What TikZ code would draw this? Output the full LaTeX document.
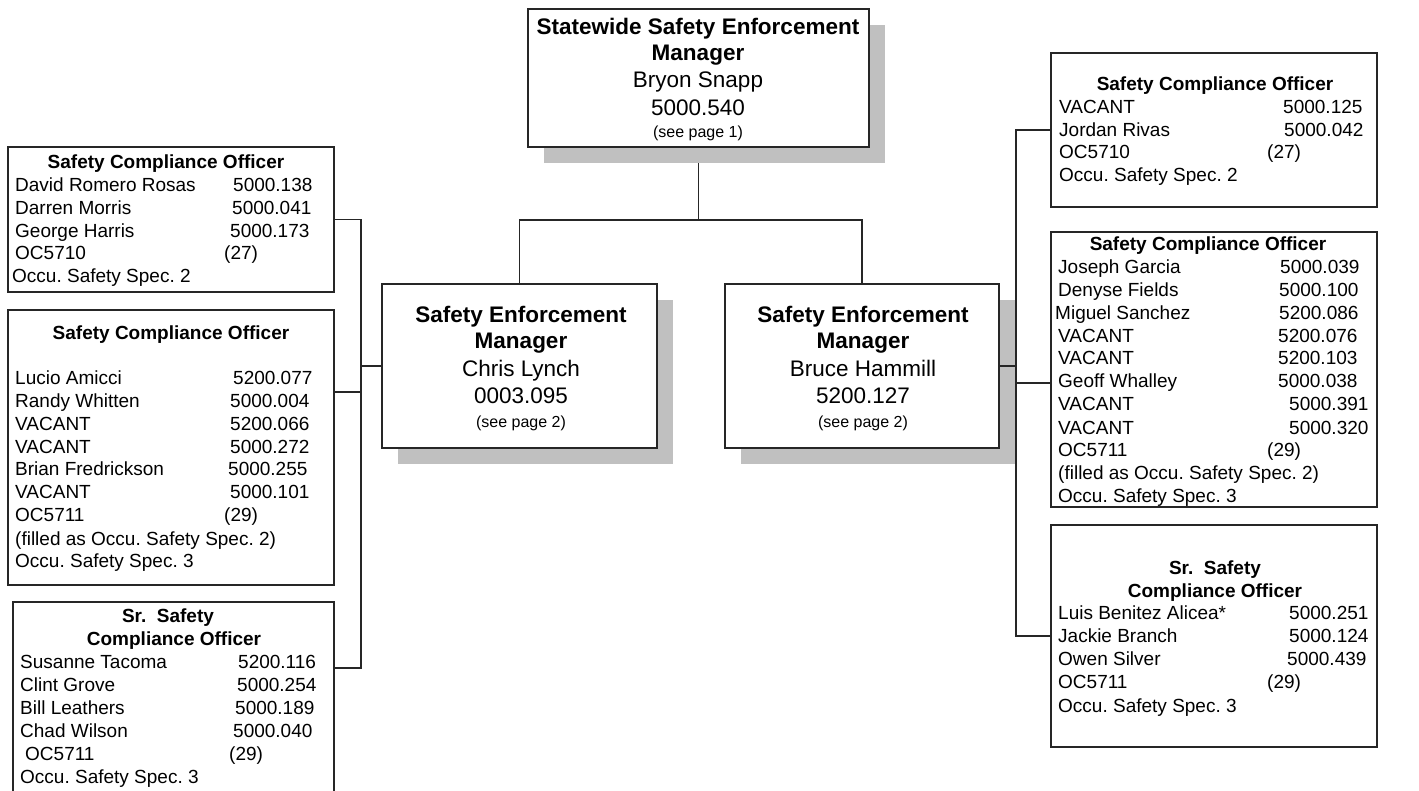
\documentclass[tikz,border=0pt]{standalone}
\usepackage{fontspec}
\setmainfont{Liberation Sans}
\usetikzlibrary{shadows,backgrounds}
\definecolor{shadowgray}{RGB}{192,192,192}
\frenchspacing
\newcounter{tn}
\tikzset{
 box/.style={draw=black!85, line width=1.8pt, fill=white, inner sep=0pt, outer sep=0pt},
 shadowed/.style={drop shadow={shadow xshift=16pt, shadow yshift=-16pt, fill=shadowgray, opacity=1}},
 txt/.style={anchor=mid west, inner sep=0pt, yshift=-4pt, font=\fontsize{19}{22}\selectfont},
 ttl/.style={anchor=mid, inner sep=0pt, yshift=-4pt, font=\fontsize{19}{22}\selectfont\bfseries},
 big/.style={anchor=mid, inner sep=0pt, yshift=-5pt, font=\fontsize{22.5}{27}\selectfont},
 bigb/.style={anchor=mid, inner sep=0pt, yshift=-5pt, font=\fontsize{22.5}{27}\selectfont\bfseries},
 smalltxt/.style={anchor=mid, inner sep=0pt, yshift=-3pt, font=\fontsize{16}{18}\selectfont},
 conn/.style={line width=1.8pt, draw=black!85},
}
\newcommand\boxtext[3]{\stepcounter{tn}\node[txt] (tx\thetn) at (#1,#2) {#3};}
\newcommand\orgrow[5]{\boxtext{#1}{#3}{#4}\boxtext{#2}{#3}{#5}}
\begin{document}
\begin{tikzpicture}[x=1pt,y=-1pt]
\useasboundingbox (0,0) rectangle (1419,790);
\clip (0,0) rectangle (1419,790);

% ---------- top
\node[box, shadowed, minimum width=341pt, minimum height=138pt] (T) at (698.5,78) {};
\node[bigb] (t1) at (698,27) {Statewide Safety Enforcement};
\node[bigb] (t2) at (698,53) {Manager};
\node[big] (t3) at (698,80) {Bryon Snapp};
\node[big] (t4) at (698,108) {5000.540};
\node[smalltxt] (t5) at (698,132) {(see page 1)};

% ---------- managers
\node[box, shadowed, minimum width=275pt, minimum height=164pt] (LM) at (519.5,366) {};
\node[bigb] (lm1) at (521,315) {Safety Enforcement};
\node[bigb] (lm2) at (521,341) {Manager};
\node[big] (lm3) at (521,369) {Chris Lynch};
\node[big] (lm4) at (521,396) {0003.095};
\node[smalltxt] (lm5) at (521,422) {(see page 2)};

\node[box, shadowed, minimum width=274pt, minimum height=164pt] (RM) at (862,366) {};
\node[bigb] (rm1) at (863,315) {Safety Enforcement};
\node[bigb] (rm2) at (863,341) {Manager};
\node[big] (rm3) at (863,369) {Bruce Hammill};
\node[big] (rm4) at (863,396) {5200.127};
\node[smalltxt] (rm5) at (863,422) {(see page 2)};

% ---------- left boxes
\node[box, minimum width=326pt, minimum height=145pt] (L1) at (171,219.5) {};
\node[ttl] (l1t) at (166,162) {Safety Compliance Officer};
\orgrow{15}{233}{185}{David Romero Rosas}{5000.138}
\orgrow{15}{232}{208}{Darren Morris}{5000.041}
\orgrow{15}{230}{231}{George Harris}{5000.173}
\orgrow{15}{224}{253}{OC5710}{(27)}
\boxtext{12}{276}{Occu. Safety Spec. 2}

\node[box, minimum width=326pt, minimum height=275pt] (L2) at (171,447.5) {};
\node[ttl] (l2t) at (171,333) {Safety Compliance Officer};
\orgrow{15}{233}{378}{Lucio Amicci}{5200.077}
\orgrow{15}{230}{401}{Randy Whitten}{5000.004}
\orgrow{15}{230}{424}{VACANT}{5200.066}
\orgrow{15}{230}{447}{VACANT}{5000.272}
\orgrow{15}{228}{469}{Brian Fredrickson}{5000.255}
\orgrow{15}{230}{492}{VACANT}{5000.101}
\orgrow{15}{224}{515}{OC5711}{(29)}
\boxtext{15}{539}{(filled as Occu. Safety Spec. 2)}
\boxtext{15}{561}{Occu. Safety Spec. 3}

\node[box, minimum width=321pt, minimum height=208pt] (L3) at (173.5,706) {};
\node[ttl] (l3t1) at (168,616) {Sr.~ Safety};
\node[ttl] (l3t2) at (174,639) {Compliance Officer};
\orgrow{20}{238}{662}{Susanne Tacoma}{5200.116}
\orgrow{20}{237}{685}{Clint Grove}{5000.254}
\orgrow{20}{235}{708}{Bill Leathers}{5000.189}
\orgrow{20}{233}{731}{Chad Wilson}{5000.040}
\orgrow{25}{229}{754}{OC5711}{(29)}
\boxtext{20}{777}{Occu. Safety Spec. 3}

% ---------- right boxes
\node[box, minimum width=326pt, minimum height=154pt] (R1) at (1214,130) {};
\node[ttl] (r1t) at (1215,84) {Safety Compliance Officer};
\orgrow{1059}{1283}{107}{VACANT}{5000.125}
\orgrow{1059}{1284}{130}{Jordan Rivas}{5000.042}
\orgrow{1059}{1267}{152}{OC5710}{(27)}
\boxtext{1059}{175}{Occu. Safety Spec. 2}

\node[box, minimum width=326pt, minimum height=275pt] (R2) at (1214,369.5) {};
\node[ttl] (r2t) at (1208,244) {Safety Compliance Officer};
\orgrow{1058}{1280}{267}{Joseph Garcia}{5000.039}
\orgrow{1058}{1279}{290}{Denyse Fields}{5000.100}
\orgrow{1055}{1279}{313}{Miguel Sanchez}{5200.086}
\orgrow{1058}{1278}{336}{VACANT}{5200.076}
\orgrow{1058}{1278}{358}{VACANT}{5200.103}
\orgrow{1058}{1278}{381}{Geoff Whalley}{5000.038}
\orgrow{1058}{1289}{404}{VACANT}{5000.391}
\orgrow{1058}{1289}{428}{VACANT}{5000.320}
\orgrow{1058}{1267}{450}{OC5711}{(29)}
\boxtext{1058}{473}{(filled as Occu. Safety Spec. 2)}
\boxtext{1058}{496}{Occu. Safety Spec. 3}

\node[box, minimum width=326pt, minimum height=222pt] (R3) at (1214,636) {};
\node[ttl] (r3t1) at (1215,568) {Sr.~ Safety};
\node[ttl] (r3t2) at (1215,591) {Compliance Officer};
\orgrow{1058}{1289}{613}{Luis Benitez Alicea*}{5000.251}
\orgrow{1058}{1289}{636}{Jackie Branch}{5000.124}
\orgrow{1058}{1287}{659}{Owen Silver}{5000.439}
\orgrow{1058}{1267}{682}{OC5711}{(29)}
\boxtext{1058}{706}{Occu. Safety Spec. 3}

% ---------- connectors
\coordinate (tb) at (T.south |- 0,220);
\coordinate (lb) at (361,0);
\coordinate (rb) at (1016,0);
\coordinate (L2att) at ([yshift=-82pt]L2.north east);
\coordinate (L3att) at ([yshift=-66pt]L3.north east);
\coordinate (R2att) at ([yshift=-151pt]R2.north west);
\begin{pgfonlayer}{background}
\draw[conn] (T.south) -- (tb);
\draw[conn] (LM.north) |- (tb) -| (RM.north);
\end{pgfonlayer}
\draw[conn] (L1.east) -- (L1.east -| lb) -- (L3att -| lb) -- (L3att);
\draw[conn] (L2att) -- (L2att -| lb);
\draw[conn] (LM.west) -- (LM.west -| lb);
\draw[conn] (R1.west) -- (R1.west -| rb) -- (R3.west -| rb) -- (R3.west);
\draw[conn] (R2att) -- (R2att -| rb);
\draw[conn] (RM.east) -- (RM.east -| rb);
\end{tikzpicture}
\end{document}
